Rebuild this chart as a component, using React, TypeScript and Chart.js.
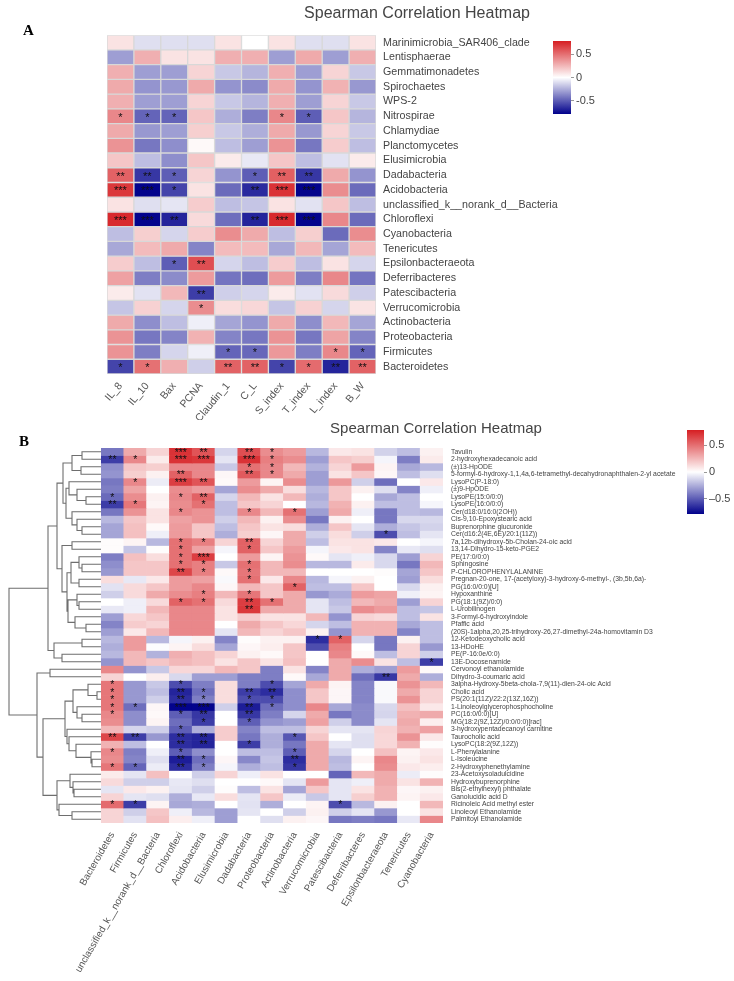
import React, { useEffect, useRef } from "react";
import { Chart, registerables } from "chart.js";

Chart.register(...registerables);

const FONT = "'Liberation Sans', Arial, sans-serif";
const TITLE = "Spearman Correlation Heatmap";

const rowsA = ["Marinimicrobia_SAR406_clade","Lentisphaerae","Gemmatimonadetes","Spirochaetes","WPS-2","Nitrospirae","Chlamydiae","Planctomycetes","Elusimicrobia","Dadabacteria","Acidobacteria","unclassified_k__norank_d__Bacteria","Chloroflexi","Cyanobacteria","Tenericutes","Epsilonbacteraeota","Deferribacteres","Patescibacteria","Verrucomicrobia","Actinobacteria","Proteobacteria","Firmicutes","Bacteroidetes"];
const colsA = ["IL_8","IL_10","Bax","PCNA","Claudin_1","C_L","S_index","T_index","L_index","B_W"];
const valuesA = [
  [.1,-.1,-.1,-.1,.1,0,.1,-.1,-.1,.1],
  [-.3,.28,.1,.1,.28,.28,-.3,.3,-.3,.28],
  [.28,-.3,-.3,.15,-.17,-.23,.28,-.3,.15,-.17],
  [.3,-.33,-.32,.3,-.33,-.36,.3,-.33,.27,-.32],
  [.28,-.3,-.3,.15,-.17,-.23,.28,-.3,.15,-.17],
  [.42,-.48,-.48,.2,-.25,-.4,.42,-.5,.2,-.23],
  [.3,-.32,-.3,.17,-.17,-.25,.3,-.32,.15,-.17],
  [.38,-.42,-.35,.02,-.2,-.3,.38,-.42,.18,-.2],
  [.2,-.2,-.35,.2,.07,-.07,.2,-.2,-.09,.07],
  [.55,-.62,-.5,.15,-.33,-.5,.56,-.62,.3,-.33],
  [.7,-.78,-.58,.1,-.46,-.66,.72,-.78,.4,-.46],
  [.1,-.1,-.08,.18,-.2,-.18,.1,-.09,.2,-.2],
  [.75,-.78,-.68,.13,-.45,-.68,.75,-.78,.42,-.46],
  [-.2,.17,-.13,.18,.4,.3,-.2,.17,-.46,.4],
  [-.27,.24,.3,-.38,.24,.24,-.27,.25,-.28,.24],
  [.18,-.2,-.5,.62,-.13,-.2,.18,-.2,.1,-.13],
  [.33,-.4,-.36,.35,-.43,-.45,.35,-.4,.42,-.43],
  [.07,-.09,.25,-.6,-.15,-.13,.07,-.09,.13,-.15],
  [-.18,.16,-.13,.4,.12,.14,-.18,.16,-.13,.1],
  [.3,-.35,-.2,-.05,-.28,-.33,.3,-.35,.25,-.28],
  [.38,-.42,-.38,.27,-.38,-.42,.38,-.42,.32,-.38],
  [.38,-.4,-.13,-.05,-.48,-.47,.36,-.4,.42,-.48],
  [-.58,.5,.28,-.15,.55,.55,-.58,.52,-.68,.55],
];
// [row, column, number of asterisks]
const starsA = [
  [5,0,1],[5,1,1],[5,2,1],[5,6,1],[5,7,1],
  [9,0,2],[9,1,2],[9,2,1],[9,5,1],[9,6,2],[9,7,2],
  [10,0,3],[10,1,3],[10,2,1],[10,5,2],[10,6,3],[10,7,3],
  [12,0,3],[12,1,3],[12,2,2],[12,5,2],[12,6,3],[12,7,3],
  [15,2,1],[15,3,2],[17,3,2],[18,3,1],
  [21,4,1],[21,5,1],[21,8,1],[21,9,1],
  [22,0,1],[22,1,1],[22,4,2],[22,5,2],[22,6,1],[22,7,1],[22,8,2],[22,9,2],
];

const rowsB = ["Tavulin","2-hydroxyhexadecanoic acid","(±)13-HpODE","5-formyl-6-hydroxy-1,1,4a,6-tetramethyl-decahydronaphthalen-2-yl acetate","LysoPC(P-18:0)","(±)9-HpODE","LysoPE(15:0/0:0)","LysoPE(16:0/0:0)","Cer(d18:0/16:0(2OH))","Cis-9,10-Epoxystearic acid","Buprenorphine glucuronide","Cer(d16:2(4E,6E)/20:1(11Z))","7a,12b-dihydroxy-5b-Cholan-24-oic acid","13,14-Dihydro-15-keto-PGE2","PE(17:0/0:0)","Sphingosine","P-CHLOROPHENYLALANINE","Pregnan-20-one, 17-(acetyloxy)-3-hydroxy-6-methyl-, (3b,5b,6a)-","PG(16:0/0:0)[U]","Hypoxanthine","PG(18:1(9Z)/0:0)","L-Urobilinogen","3-Formyl-6-hydroxyindole","Pfaffic acid","(20S)-1alpha,20,25-trihydroxy-26,27-dimethyl-24a-homovitamin D3","12-Ketodeoxycholic acid","13-HDoHE","PE(P-16:0e/0:0)","13E-Docosenamide","Cervonoyl ethanolamide","Dihydro-3-coumaric acid","3alpha-Hydroxy-5beta-chola-7,9(11)-dien-24-oic Acid","Cholic acid","PS(20:1(11Z)/22:2(13Z,16Z))","1-Linoleoylglycerophosphocholine","PC(16:0/0:0)[U]","MG(18:2(9Z,12Z)/0:0/0:0)[rac]","3-hydroxypentadecanoyl carnitine","Taurocholic acid","LysoPC(18:2(9Z,12Z))","L-Phenylalanine","L-Isoleucine","2-Hydroxyphenethylamine","23-Acetoxysoladulcidine","Hydroxybuprenorphine","Bis(2-ethylhexyl) phthalate","Ganolucidic acid D","Ricinoleic Acid methyl ester","Linoleoyl Ethanolamide","Palmitoyl Ethanolamide"];
const colsB = ["Bacteroidetes","Firmicutes","unclassified_k__norank_d__Bacteria","Chloroflexi","Acidobacteria","Elusimicrobia","Dadabacteria","Proteobacteria","Actinobacteria","Verrucomicrobia","Patescibacteria","Deferribacteres","Epsilonbacteraeota","Tenericutes","Cyanobacteria"];
const valuesB = [
  [-.42,.3,.15,.72,.6,-.13,.62,.4,.35,-.22,.08,.1,-.14,-.2,.05],
  [-.6,.42,.07,.72,.7,-.08,.72,.45,.4,-.3,.2,.17,-.03,-.4,.07],
  [-.35,.2,.17,.42,.42,-.17,.5,.42,.25,-.24,.15,.35,.04,-.27,-.22],
  [-.33,.17,.05,.55,.42,.03,.58,.42,.3,-.3,.1,.2,.03,-.2,-.1],
  [-.42,.42,-.06,.68,.6,.02,.35,.04,.4,-.3,.36,-.15,-.45,0,.08],
  [-.4,.32,0,.4,.35,-.28,.4,.3,.12,-.22,.2,.05,-.1,-.38,-.05],
  [-.46,.4,.05,.42,.55,-.13,.25,.1,.25,-.25,.2,0,-.27,-.2,0],
  [-.6,.48,.04,.4,.5,-.2,.2,.15,0,-.22,.27,.05,-.2,-.2,-.03],
  [-.42,.38,.1,.42,.38,-.2,.42,.25,.5,-.3,.3,-.05,-.42,-.2,-.22],
  [-.22,.2,.1,.33,.38,-.15,.25,.05,.4,-.42,.05,0,-.42,-.12,-.12],
  [-.28,.22,.02,.35,.2,-.2,.2,.1,.12,-.25,.2,-.08,-.25,-.18,-.14],
  [-.28,.22,-.05,.35,.2,-.25,.17,.03,.3,-.15,.12,-.15,-.55,-.2,-.08],
  [.01,.04,-.22,.5,.45,.15,.55,.15,.3,-.2,.1,.1,.08,0,-.03],
  [.01,-.18,.01,.5,.33,-.03,.55,.2,.35,-.03,.08,.1,-.38,-.07,-.1],
  [-.4,.22,.12,.5,.68,0,.35,.04,.38,.02,-.08,-.05,-.12,-.3,.15],
  [-.35,.2,.2,.5,.45,-.17,.5,.25,.4,-.22,-.22,.07,-.12,-.42,.25],
  [-.32,.2,.2,.65,.45,.02,.48,.25,.25,0,0,0,.01,-.28,.2],
  [.12,-.07,.08,.35,.33,-.02,.5,.08,.42,-.22,-.03,.05,0,-.3,.12],
  [-.09,.13,.2,.35,.42,.03,.25,.2,.55,-.2,-.2,.2,0,-.12,.05],
  [-.15,.13,.3,.4,.45,.25,.48,.2,.3,-.32,-.26,.35,.32,-.05,.04],
  [0,-.05,.13,.55,.5,.13,.68,.5,.3,-.08,-.2,.25,.3,-.3,.15],
  [-.07,-.05,.25,.42,.42,.1,.7,.3,.3,-.08,-.17,.4,.35,-.2,-.18],
  [-.3,.14,.2,.42,.42,.1,.18,.1,.1,.25,-.33,.15,.13,-.2,.1],
  [-.38,.18,.15,.42,.42,0,.3,.2,.14,-.13,-.2,.27,.27,-.27,-.2],
  [-.3,.08,.25,.42,.42,-.08,.25,.15,.2,.05,-.33,.27,.27,-.38,-.2],
  [-.22,.35,-.22,-.03,.05,-.38,.01,.05,.05,-.65,.55,-.13,-.42,.05,-.2],
  [-.25,.35,-.01,.04,.12,-.28,.03,.06,.2,-.55,.45,0,-.42,.15,-.32],
  [-.22,.25,-.24,.28,.22,.15,.05,.02,.2,0,.42,.02,-.2,.15,-.15],
  [-.33,.25,.2,.25,.22,.1,.2,.1,.22,0,.3,.4,.1,-.2,-.6],
  [.42,-.33,-.17,.14,.14,.25,.2,-.4,.1,-.38,.3,-.25,-.3,.35,.02],
  [.15,0,.06,-.12,-.3,-.3,-.4,-.4,.02,-.27,.3,-.45,-.62,.3,-.25],
  [.48,-.32,-.17,-.55,-.4,.12,-.4,-.55,-.28,.3,.04,-.38,-.02,.38,.25],
  [.48,-.32,-.2,-.68,-.45,.12,-.6,-.65,-.35,.2,.03,-.38,-.02,.3,.15],
  [.48,-.32,-.15,-.65,-.4,.12,-.55,-.55,-.35,.2,.03,-.38,-.02,.38,.15],
  [.48,-.45,.03,-.78,-.78,-.15,-.7,-.45,-.35,.42,-.27,-.36,-.12,.22,.08],
  [.42,-.35,.02,-.5,-.62,0,-.62,-.4,-.13,.3,-.42,-.36,-.13,.27,.3],
  [.4,-.35,.04,-.45,-.6,0,-.5,-.33,-.3,.33,-.15,-.36,-.08,.3,.06],
  [.25,-.13,-.15,-.5,-.25,.18,-.38,-.2,-.2,.15,-.08,-.08,.15,.27,.33],
  [.65,-.6,-.32,-.65,-.68,.18,-.42,-.25,-.52,.2,0,-.1,.14,.38,.08],
  [.27,-.2,0,-.65,-.68,0,-.6,-.25,-.42,.3,-.08,-.1,.14,.27,.01],
  [.42,-.4,-.05,-.5,-.35,0,-.2,-.2,-.5,.3,-.13,0,.22,.04,.08],
  [.4,-.38,-.1,-.7,-.45,.03,-.37,-.18,-.65,.3,-.22,.04,.42,.05,.1],
  [.48,-.48,-.06,-.65,-.4,-.03,-.25,-.2,-.62,.3,-.2,0,.4,.08,.06],
  [.07,-.08,.22,0,-.15,.15,-.05,.1,0,0,-.48,.25,.3,-.06,.01],
  [.13,-.15,-.15,-.07,-.1,0,0,.02,-.08,.35,-.08,-.05,.3,.1,.27],
  [-.08,.08,.05,-.08,-.15,.01,-.2,.1,-.28,.2,-.08,.1,.27,.03,.05],
  [.15,-.08,-.1,-.25,-.07,.12,-.08,.2,-.06,-.17,-.08,.17,.27,.04,.08],
  [.52,-.6,.04,-.27,-.25,0,-.09,-.25,0,.04,-.55,-.22,.05,0,.25],
  [.15,-.15,.2,-.05,-.22,-.3,-.08,0,-.15,.05,-.15,-.08,-.32,0,.1],
  [.15,-.09,.22,.06,-.05,-.3,0,-.1,.05,.03,-.42,-.4,-.42,-.07,.42],
];
// [row, column, number of asterisks]
const starsB = [
  [0,3,3],[0,4,2],[0,6,2],[0,7,1],
  [1,0,2],[1,1,1],[1,3,3],[1,4,3],[1,6,3],[1,7,1],
  [2,6,1],[2,7,1],
  [3,3,2],[3,6,2],[3,7,1],
  [4,1,1],[4,3,3],[4,4,2],
  [6,0,1],[6,3,1],[6,4,2],
  [7,0,2],[7,1,1],[7,4,1],
  [8,3,1],[8,6,1],[8,8,1],
  [11,12,1],
  [12,3,1],[12,4,1],[12,6,2],
  [13,3,1],[13,6,1],
  [14,3,1],[14,4,3],
  [15,3,1],[15,4,1],[15,6,1],
  [16,3,2],[16,4,1],[16,6,1],
  [17,6,1],
  [18,8,1],
  [19,4,1],[19,6,1],
  [20,3,1],[20,4,1],[20,6,2],[20,7,1],
  [21,6,2],
  [25,9,1],[25,10,1],
  [28,14,1],
  [30,12,2],
  [31,0,1],[31,3,1],[31,7,1],
  [32,0,1],[32,3,2],[32,4,1],[32,6,2],[32,7,2],
  [33,0,1],[33,3,2],[33,4,1],[33,6,1],[33,7,1],
  [34,0,1],[34,1,1],[34,3,3],[34,4,3],[34,6,2],[34,7,1],
  [35,0,1],[35,3,1],[35,4,2],[35,6,2],
  [36,4,1],[36,6,1],
  [37,3,1],
  [38,0,2],[38,1,2],[38,3,2],[38,4,2],[38,8,1],
  [39,3,2],[39,4,2],[39,6,1],
  [40,0,1],[40,3,1],[40,8,1],
  [41,3,2],[41,4,1],[41,8,2],
  [42,0,1],[42,1,1],[42,3,2],[42,4,1],[42,8,1],
  [47,0,1],[47,1,1],[47,10,1],
];

// Hierarchical clustering of the rows of B: [merge distance, left, right]; leaves are row numbers from 1.
const rowTree = [92,
  [53,
    [44,
      [38,
        [29,[19,1,2],[20,3,4]],
        [35,[32,5,[24,6,[15,7,8]]],[29,9,[24,10,[19,11,12]]]]],
      [39,
        [29,13,14],
        [34,
          [30,[22,15,[19,16,17]],[22,18,19]],
          [33,[24,20,[22,21,22]],[26,23,[15,24,25]]]]]],
    [47,[19,26,27],[39,28,29]]],
  [64,
    [51,30,31],
    [58,
      [36,
        [28,[13,32,[4,33,34]],[24,35,[19,36,37]]],
        [34,38,[32,39,[25,40,[10,41,[9,42,43]]]]]],
      [44,
        [31,44,[28,45,[27,46,47]]],
        [42,48,[29,49,50]]]]]];

const barRange = 0.79;
const barTicksA = [0.5, 0, -0.5];
const barTicksB = [0.5, 0, -0.5];

function cellColor(v: number) {
  const t = Math.min(1, Math.abs(v) / barRange);
  const end = v >= 0 ? [214, 30, 34] : [0, 0, 139];
  const c = end.map((e) => Math.round(255 + (e - 255) * t));
  return `rgb(${c[0]},${c[1]},${c[2]})`;
}

const starPlugin = {
  id: "stars",
  afterDatasetsDraw(chart: any, _a: any, opts: any) {
    const ctx = chart.ctx;
    ctx.save();
    ctx.fillStyle = "#111";
    ctx.font = `${opts.size}px ${FONT}`;
    ctx.textAlign = "center";
    ctx.textBaseline = "middle";
    for (const [r, c, n] of opts.marks) {
      const el = chart.getDatasetMeta(r).data[c];
      ctx.fillText("*".repeat(n), el.x, (el.y + el.base) / 2 + opts.dy);
    }
    ctx.restore();
  },
};

function heatmap(canvas: HTMLCanvasElement, o: any) {
  return new Chart(canvas, {
    type: "bar",
    data: {
      labels: o.cols,
      datasets: o.values.map((row: number[], r: number) => ({
        label: o.rows[r],
        data: row.map(() => [r, r + 1]),
        backgroundColor: row.map(cellColor),
        borderColor: o.border,
        borderWidth: o.border ? 1 : 0,
        borderSkipped: false,
        barPercentage: 1,
        categoryPercentage: 1,
        grouped: false,
      })),
    },
    options: {
      responsive: false,
      animation: false,
      layout: { padding: o.padding },
      plugins: {
        legend: { display: false },
        tooltip: { enabled: false },
        title: {
          display: true,
          text: TITLE,
          color: "#444",
          font: { family: FONT, size: o.titleSize, weight: "normal" },
          padding: o.titlePadding,
        },
        stars: { marks: o.stars, size: o.starSize, dy: o.starDy },
      } as any,
      scales: {
        x: {
          grid: { display: false, drawTicks: false },
          border: { display: false },
          afterFit: (s: any) => { s.height = o.xHeight; },
          ticks: {
            autoSkip: false,
            minRotation: o.xRot,
            maxRotation: o.xRot,
            padding: o.xPad,
            color: "#555",
            font: { family: FONT, size: o.xFont },
          },
        },
        y: {
          type: "linear",
          position: "right",
          min: 0,
          max: o.rows.length,
          reverse: true,
          grid: { display: false, drawTicks: false },
          border: { display: false },
          afterBuildTicks: (s: any) => { s.ticks = o.rows.map((_: string, i: number) => ({ value: i + 0.5 })); },
          afterFit: (s: any) => { s.width = o.yWidth; },
          ticks: {
            autoSkip: false,
            padding: o.yPad,
            color: "#444",
            font: { family: FONT, size: o.yFont },
            callback: (v: number) => o.rows[Math.floor(v)],
          },
        },
      },
    } as any,
    plugins: [starPlugin],
  });
}

function colorBar(canvas: HTMLCanvasElement, ticks: number[], axisWidth: number, fmt: (v: number) => string, size: number) {
  return new Chart(canvas, {
    type: "bar",
    data: {
      labels: [""],
      datasets: [{
        data: [[-barRange, barRange]],
        barPercentage: 1,
        categoryPercentage: 1,
        borderSkipped: false,
        backgroundColor: (c: any) => {
          const a = c.chart.chartArea;
          if (!a) return "#fff";
          const g = c.chart.ctx.createLinearGradient(0, a.bottom, 0, a.top);
          g.addColorStop(0, cellColor(-barRange));
          g.addColorStop(0.5, "#fff");
          g.addColorStop(1, cellColor(barRange));
          return g;
        },
      }],
    },
    options: {
      responsive: false,
      animation: false,
      layout: { padding: { top: 6, bottom: 6, left: 0, right: 0 } },
      plugins: { legend: { display: false }, tooltip: { enabled: false } },
      scales: {
        x: { display: false },
        y: {
          position: "right",
          min: -barRange,
          max: barRange,
          afterBuildTicks: (s: any) => { s.ticks = ticks.map((value) => ({ value })); },
          afterFit: (s: any) => { s.width = axisWidth; s.paddingTop = 0; s.paddingBottom = 0; },
          grid: { drawOnChartArea: false, tickLength: 3, color: "#999", tickColor: "#999" },
          border: { display: false },
          ticks: { padding: 2, color: "#444", font: { family: FONT, size }, callback: (v: number) => fmt(v) },
        },
      },
    } as any,
  });
}

function treeSegments(node: any, out: any[]): { x: number; y: number } {
  if (typeof node === "number") return { x: 0, y: node - 0.5 };
  const [d, l, r] = node;
  const a = treeSegments(l, out);
  const b = treeSegments(r, out);
  out.push({ x: a.x, y: a.y }, { x: d, y: a.y }, { x: d, y: b.y }, { x: b.x, y: b.y }, { x: NaN, y: NaN });
  return { x: d, y: (a.y + b.y) / 2 };
}

function dendrogram(canvas: HTMLCanvasElement) {
  const pts: any[] = [];
  treeSegments(rowTree, pts);
  return new Chart(canvas, {
    type: "scatter",
    data: {
      datasets: [{
        data: pts,
        showLine: true,
        spanGaps: false,
        pointRadius: 0,
        borderColor: "#6e6e6e",
        borderWidth: 1.1,
        clip: false,
      }],
    },
    options: {
      responsive: false,
      animation: false,
      layout: { padding: { top: 8, bottom: 9 } },
      plugins: { legend: { display: false }, tooltip: { enabled: false } },
      scales: {
        x: { type: "linear", display: false, min: 0, max: 101, reverse: true },
        y: { type: "linear", display: false, min: 0, max: rowsB.length, reverse: true },
      },
    } as any,
  });
}

const abs = (left: number, top: number): React.CSSProperties => ({ position: "absolute", left, top, display: "block" });
const letter = (left: number, top: number): React.CSSProperties => ({
  position: "absolute", left, top, font: "bold 15px 'Liberation Serif', serif", color: "#000", lineHeight: "16px",
});

export default function App() {
  const a = useRef<HTMLCanvasElement>(null);
  const b = useRef<HTMLCanvasElement>(null);
  const t = useRef<HTMLCanvasElement>(null);
  const ca = useRef<HTMLCanvasElement>(null);
  const cb = useRef<HTMLCanvasElement>(null);

  useEffect(() => {
    const charts = [
      heatmap(a.current!, {
        rows: rowsA, cols: colsA, values: valuesA, stars: starsA, border: "#d8d8d8",
        padding: { left: 107, right: 7 }, titleSize: 16, titlePadding: { top: 4, bottom: 12 },
        xHeight: 46, yWidth: 351, xPad: 6, yPad: 7, xFont: 10.5, xRot: 50, yFont: 10.7, starSize: 11, starDy: 1.5,
      }),
      heatmap(b.current!, {
        rows: rowsB, cols: colsB, values: valuesB, stars: starsB, border: null,
        padding: { left: 101, right: -37 }, titleSize: 15, titlePadding: { top: 0, bottom: 10 },
        xHeight: 158, yWidth: 328, xPad: 7, yPad: 8, xFont: 9.8, xRot: 60, yFont: 6.8, starSize: 10.5, starDy: 1,
      }),
      dendrogram(t.current!),
      colorBar(ca.current!, barTicksA, 36, (v) => String(v), 11),
      colorBar(cb.current!, barTicksB, 30, (v) => String(v).replace("-", "\u2013"), 11),
    ];
    return () => charts.forEach((c) => c.destroy());
  }, []);

  return (
    <>
      <canvas ref={a} width={734} height={420} style={abs(0, 0)} />
      <canvas ref={b} width={734} height={561} style={abs(0, 420)} />
      <canvas ref={t} width={101} height={392} style={abs(0, 440)} />
      <canvas ref={ca} width={54} height={85} style={abs(553, 35)} />
      <canvas ref={cb} width={47} height={96} style={abs(687, 424)} />
      <div style={letter(23, 22)}>A</div>
      <div style={letter(19, 433)}>B</div>
    </>
  );
}
